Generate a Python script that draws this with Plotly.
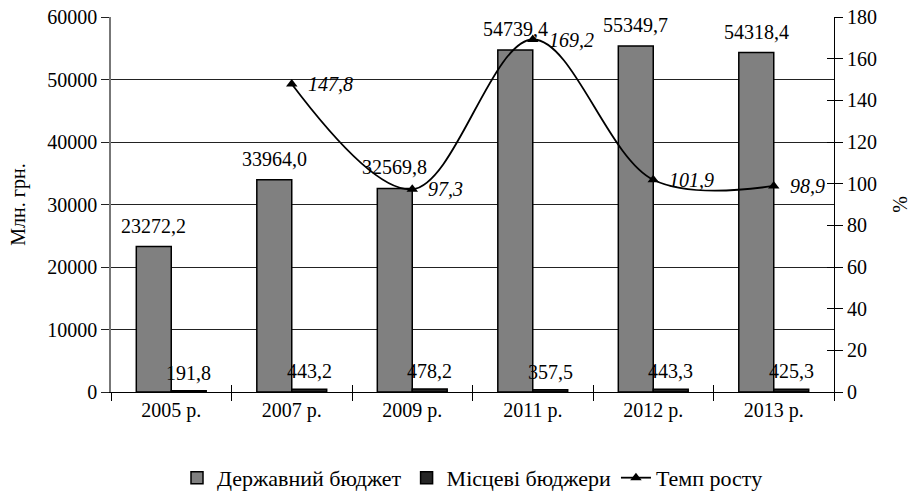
import plotly.graph_objects as go

years = ["2005 р.", "2007 р.", "2009 р.", "2011 р.", "2012 р.", "2013 р."]
state_budget = [23272.2, 33964.0, 32569.8, 54739.4, 55349.7, 54318.4]
local_budgets = [191.8, 443.2, 478.2, 357.5, 443.3, 425.3]
growth_rate = [None, 147.8, 97.3, 169.2, 101.9, 98.9]

FONT = "'Liberation Serif', 'Times New Roman', serif"
FS = 20
def fmt(v):
    return f"{v:.1f}".replace(".", ",")

fig = go.Figure()
fig.add_trace(go.Bar(
    x=years, y=state_budget, name="Державний бюджет",
    marker=dict(color="#808080", line=dict(color="black", width=1.5)),
))
fig.add_trace(go.Bar(
    x=years, y=local_budgets, name="Місцеві бюджери",
    marker=dict(color="#262626", line=dict(color="black", width=1.5)),
))
fig.add_trace(go.Scatter(
    x=years, y=growth_rate, name="Темп росту", yaxis="y2",
    mode="lines+markers", line=dict(color="black", width=1.8, shape="spline", smoothing=1),
    marker=dict(symbol="triangle-up", size=10, color="black"),
    connectgaps=False,
))
# invisible helper trace so the crossing tick marks (inner halves) get drawn
fig.add_trace(go.Scatter(
    x=years, y=growth_rate, xaxis="x2", yaxis="y3", mode="markers",
    marker=dict(opacity=0), showlegend=False, hoverinfo="skip",
))

ann = []
for x, v in zip(years, state_budget):
    ann.append(dict(x=x, y=v, xref="x", yref="y", text=fmt(v), showarrow=False,
                    xshift=-17.5, yshift=8, yanchor="bottom",
                    font=dict(family=FONT, size=FS, color="black")))
for x, v in zip(years, local_budgets):
    ann.append(dict(x=x, y=v, xref="x", yref="y", text=fmt(v), showarrow=False,
                    xshift=17.5, yshift=5, yanchor="bottom",
                    font=dict(family=FONT, size=FS, color="black")))
for x, v in zip(years, growth_rate):
    if v is None:
        continue
    ann.append(dict(x=x, y=v, xref="x", yref="y2", text=f"<i>{fmt(v)}</i>", showarrow=False,
                    xshift=14, yshift=0, xanchor="left", yanchor="middle",
                    font=dict(family=FONT, size=FS, color="black")))

fig.update_layout(
    width=915, height=495,
    margin=dict(l=111, r=81, t=17, b=103, autoexpand=False),
    paper_bgcolor="white", plot_bgcolor="white",
    font=dict(family=FONT, size=FS, color="black"),
    barmode="group", bargap=0.42, bargroupgap=0,
    showlegend=True,
    legend=dict(orientation="h", x=0.5, xanchor="center", y=-0.229, yanchor="middle",
                font=dict(family=FONT, size=22), itemwidth=30, tracegroupgap=0),
    annotations=ann,
    xaxis=dict(type="category", range=[-0.5, 5.5], showgrid=False, showline=True,
               linecolor="black", linewidth=1,
               ticks="outside", tickson="boundaries", ticklen=8, tickcolor="black",
               automargin=False, tickfont=dict(family=FONT, size=FS)),
    xaxis2=dict(type="category", range=[-0.5, 5.5], overlaying="x", anchor="y",
                showgrid=False, showline=False, ticks="inside", tickson="boundaries",
                ticklen=7, tickcolor="black", showticklabels=False, automargin=False),
    yaxis=dict(range=[0, 60000], tickvals=[0, 10000, 20000, 30000, 40000, 50000, 60000],
               tickformat="d", showgrid=True, ticklabeloverflow="allow",
               gridcolor="#222222", gridwidth=1, showline=True, linecolor="#777777", linewidth=1.5,
               ticks="outside", ticklen=8, tickcolor="#222222", zeroline=False, automargin=False,
               title=dict(text="Млн. грн.", font=dict(family=FONT, size=FS), standoff=16),
               tickfont=dict(family=FONT, size=FS)),
    yaxis2=dict(range=[0, 180], tickvals=list(range(0, 181, 20)), overlaying="y", side="right",
                showgrid=False, ticklabeloverflow="allow",
                showline=True, linecolor="black", linewidth=1, ticks="outside", ticklen=8,
                tickcolor="black", zeroline=False, automargin=False,
                title=dict(text="%", font=dict(family=FONT, size=FS), standoff=16),
                tickfont=dict(family=FONT, size=FS)),
    yaxis3=dict(range=[0, 180], tickvals=list(range(0, 181, 20)), overlaying="y", side="right",
                anchor="x2", showgrid=False, showline=False, ticks="inside", ticklen=7,
                tickcolor="black", zeroline=False, showticklabels=False, automargin=False),
)
fig.write_html("out.html", config={"displayModeBar": False},
               post_script="document.body.style.margin='0px';")
